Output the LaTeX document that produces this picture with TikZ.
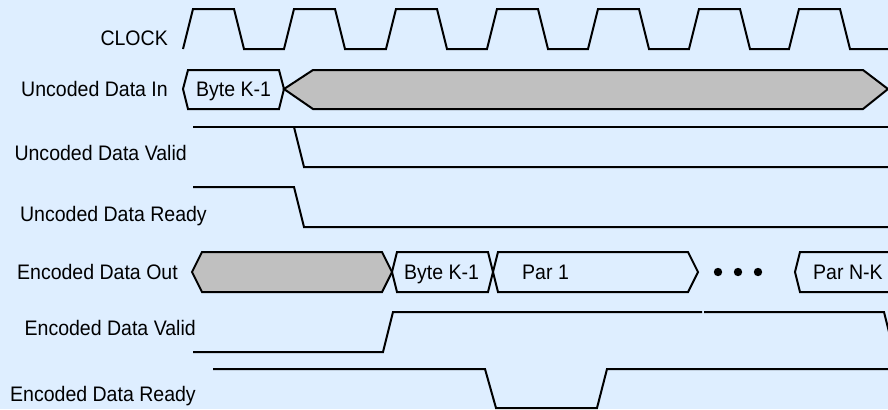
\documentclass[tikz,border=0pt]{standalone}
\usepackage{fontspec}
\setmainfont{Liberation Sans}[FakeStretch=0.93]
\definecolor{bgblue}{RGB}{222,238,255}
\definecolor{busgray}{RGB}{192,192,192}
\tikzset{
  sig/.style={line width=2bp, line join=miter, black},
  lbl/.style={anchor=base east, inner sep=0pt, font=\fontsize{21bp}{25bp}\selectfont},
  boxtxt/.style={anchor=base west, inner sep=0pt, font=\fontsize{21bp}{25bp}\selectfont},
  busfill/.style={sig, fill=busgray},
}
\begin{document}
\begin{tikzpicture}[x=1bp, y=-1bp]
\fill[bgblue] (0,0) rectangle (888,409);
\useasboundingbox (0,0) rectangle (888,409);

% labels
\node[lbl] (lclk) at (168,45.5) {CLOCK};
\node[lbl] (ludi) at (168,96.5) {Uncoded Data In};
\node[lbl] (ludv) at (187,160.5) {Uncoded Data Valid};
\node[lbl] (ludr) at (207,221.5) {Uncoded Data Ready};
\node[lbl] (ledo) at (178,279) {Encoded Data Out};
\node[lbl] (ledv) at (196,335) {Encoded Data Valid};
\node[lbl] (ledr) at (196,401.5) {Encoded Data Ready};

% clock
\draw[sig] (183,49)
  foreach \t in {183,284,386,487,588,689,789} { -- (\t,49) -- (\t+10,9) -- (\t+51,9) -- (\t+61,49) }
  -- (888,49);

% uncoded data in
\draw[sig] (183,89) -- (188,70) -- (279,70) -- (284,89) -- (279,109) -- (188,109) -- cycle;
\node[boxtxt] (tb1) at (196,96.5) {Byte K-1};
\draw[busfill] (284,89) -- (313,70) -- (863,70) -- (888,89) -- (863,109) -- (313,109) -- cycle;

% uncoded data valid
\draw[sig] (193,127) -- (888,127);
\draw[sig] (294,127) -- (304,167) -- (888,167);

% uncoded data ready
\draw[sig] (193,187) -- (294,187) -- (304,227) -- (888,227);

% encoded data out
\draw[busfill] (192,272) -- (202,252) -- (382,252) -- (392,272) -- (382,292) -- (202,292) -- cycle;
\draw[sig] (392,272) -- (397,252) -- (488,252) -- (493,272) -- (488,292) -- (397,292) -- cycle;
\node[boxtxt] (tb2) at (404,279) {Byte K-1};
\draw[sig] (493,272) -- (498,252) -- (688,252) -- (698,272) -- (688,292) -- (498,292) -- cycle;
\node[boxtxt] (tp1) at (522,279) {Par 1};
\fill (718,272) circle (4.2) (738,272) circle (4.2) (758,272) circle (4.2);
\draw[sig] (890,252) -- (800,252) -- (795,272) -- (800,292) -- (890,292);
\node[boxtxt] (tpn) at (813,279) {Par N-K};

% encoded data valid
\draw[sig] (193,352) -- (383,352) -- (393,312) -- (702,312);
\draw[sig] (704,312) -- (884,312) -- (890,336);

% encoded data ready
\draw[sig] (213,369) -- (485,369) -- (496,408) -- (597,408) -- (607,369) -- (888,369);
\end{tikzpicture}
\end{document}
